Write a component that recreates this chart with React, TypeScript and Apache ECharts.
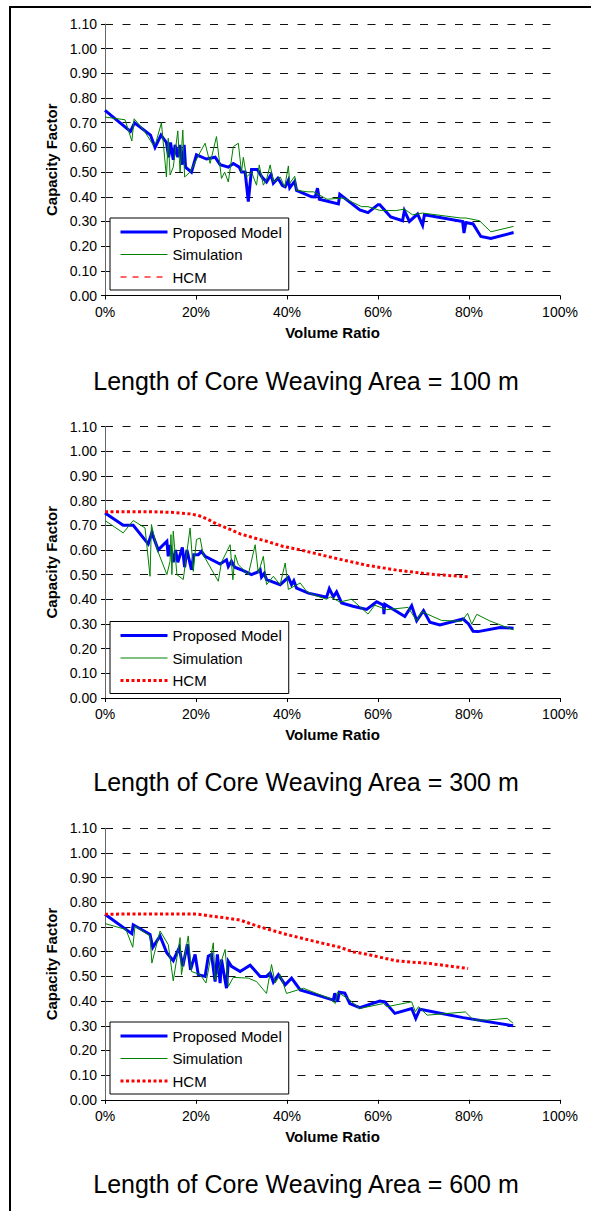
import React, { useEffect, useRef } from "react";
import * as echarts from "echarts";

type Pt = [number, number];

const FONT = '"Liberation Sans", Arial, Helvetica, sans-serif';

const seriesNames = ["Proposed Model", "Simulation", "HCM"];
const panelTitles = [
  "Length of Core Weaving Area = 100 m",
  "Length of Core Weaving Area = 300 m",
  "Length of Core Weaving Area = 600 m",
];
const xAxisName = "Volume Ratio";
const yAxisName = "Capacity Factor";

// ---- Length = 100 m ----
const model100: Pt[] = [
  [0, 0.75], [5.6, 0.665], [6.5, 0.7], [10, 0.65], [11, 0.6], [12.3, 0.65], [13.5, 0.62],
  [14, 0.56], [14.4, 0.62], [15, 0.55], [15.4, 0.61], [16, 0.56], [16.4, 0.61], [17, 0.53],
  [17.4, 0.61], [17.7, 0.52], [19, 0.5], [20.1, 0.57], [22.3, 0.553], [24.2, 0.56],
  [25.3, 0.53], [27.1, 0.52], [28.2, 0.535], [29.5, 0.52], [30, 0.5], [30.8, 0.5],
  [31.5, 0.38], [32.2, 0.51], [33.5, 0.51], [34.5, 0.48], [35.5, 0.46], [36.5, 0.49],
  [37, 0.455], [38, 0.475], [39, 0.445], [39.6, 0.44], [40.3, 0.467], [40.6, 0.436],
  [41.7, 0.463], [42.1, 0.426], [45.4, 0.4], [46.2, 0.399], [46.7, 0.435], [47.1, 0.39],
  [51.3, 0.371], [51.6, 0.41], [56, 0.347], [57.8, 0.336], [60, 0.368], [60.4, 0.368],
  [62.8, 0.318], [65.4, 0.303], [65.8, 0.344], [66.9, 0.3], [68.7, 0.33], [69.8, 0.284],
  [70.2, 0.327], [78.6, 0.3], [78.9, 0.253], [79.3, 0.296], [80.9, 0.29], [82.6, 0.239],
  [84.8, 0.231], [89.8, 0.255],
];
const sim100: Pt[] = [
  [0, 0.723], [4.4, 0.712], [5.9, 0.626], [6.4, 0.716], [8.5, 0.67], [10.6, 0.61],
  [11.2, 0.62], [12.4, 0.7], [13.5, 0.48], [13.9, 0.637], [14.3, 0.488], [15, 0.52],
  [16, 0.667], [16.5, 0.5], [17.1, 0.67], [17.5, 0.48], [18.7, 0.5], [20.9, 0.58],
  [22, 0.617], [23.1, 0.535], [24.5, 0.644], [25.6, 0.474], [26.3, 0.5], [27.1, 0.46],
  [28.2, 0.603], [29.3, 0.617], [30, 0.5], [30.4, 0.56], [31.1, 0.48], [32.2, 0.5],
  [33.3, 0.447], [33.9, 0.529], [34.8, 0.447], [35.5, 0.47], [36.3, 0.529], [37, 0.46],
  [38.5, 0.48], [39.5, 0.44], [40.3, 0.525], [40.6, 0.455], [41.7, 0.483], [42.1, 0.426],
  [44.6, 0.42], [45.9, 0.42], [48.8, 0.39], [52.4, 0.395], [56.4, 0.36], [57.8, 0.36],
  [60.4, 0.345], [63.9, 0.344], [65.8, 0.35], [67.6, 0.327], [69.8, 0.334], [78.2, 0.314],
  [79.3, 0.314], [82.3, 0.303], [84.8, 0.258], [89.8, 0.28],
];
const hcm100: Pt[] = [];

// ---- Length = 300 m ----
const model300: Pt[] = [
  [0, 0.75], [4, 0.7], [6.2, 0.7], [9.5, 0.624], [10.3, 0.67], [11.7, 0.6], [13.6, 0.635],
  [13.9, 0.574], [14.3, 0.62], [15, 0.55], [15.5, 0.6], [16, 0.55], [17, 0.61], [17.5, 0.53],
  [18, 0.6], [19, 0.52], [19.5, 0.58], [20.5, 0.58], [21.2, 0.594], [22, 0.574],
  [25.3, 0.543], [26.7, 0.56], [27.1, 0.533], [27.8, 0.554], [28.5, 0.53], [30.4, 0.516],
  [32.2, 0.5], [33.5, 0.51], [34.1, 0.52], [34.4, 0.49], [35, 0.505], [35.5, 0.48],
  [38.5, 0.459], [40.3, 0.489], [41, 0.459], [41.5, 0.475], [42.1, 0.445], [44.7, 0.425],
  [48.7, 0.408], [49.3, 0.443], [50.2, 0.41], [50.9, 0.43], [52, 0.385], [54.5, 0.372],
  [57.5, 0.359], [59.7, 0.39], [61.2, 0.376], [61.3, 0.34], [61.5, 0.38], [65.9, 0.33],
  [67.4, 0.374], [68.5, 0.313], [70, 0.354], [71.4, 0.307], [73.6, 0.296], [78.7, 0.32],
  [79.9, 0.3], [80.9, 0.27], [82, 0.269], [86.8, 0.286], [89.8, 0.283],
];
const sim300: Pt[] = [
  [0, 0.719], [4, 0.669], [6.2, 0.719], [8.8, 0.689], [9.9, 0.493], [10.2, 0.703],
  [11.5, 0.6], [13.6, 0.5], [14.3, 0.554], [14.5, 0.662], [14.7, 0.5], [15, 0.676],
  [15.8, 0.5], [17.2, 0.48], [18.7, 0.689], [19.4, 0.513], [20.1, 0.642], [20.9, 0.648],
  [21.6, 0.58], [24.9, 0.473], [25.6, 0.55], [27.5, 0.621], [28.1, 0.479], [28.6, 0.58],
  [29.3, 0.54], [31.5, 0.5], [33, 0.621], [33.7, 0.506], [34.8, 0.574], [35.5, 0.459],
  [37, 0.493], [38.5, 0.459], [39.6, 0.547], [40.3, 0.44], [42.9, 0.466], [44.3, 0.432],
  [45.8, 0.418], [48.7, 0.4], [49.5, 0.41], [51.6, 0.389], [54.2, 0.4], [57.8, 0.34],
  [59.3, 0.376], [61.9, 0.358], [66.6, 0.367], [68.5, 0.313], [69.6, 0.35], [74, 0.314],
  [78.4, 0.311], [79.7, 0.343], [80.6, 0.299], [81.7, 0.339], [84.6, 0.312], [89.8, 0.276],
];
const hcm300: Pt[] = [
  [0, 0.755], [5, 0.755], [10, 0.755], [15, 0.752], [18.7, 0.746], [20.5, 0.74],
  [22.5, 0.725], [24.5, 0.705], [27.5, 0.683], [29.7, 0.665], [32.5, 0.65], [35.5, 0.635],
  [39, 0.615], [42.9, 0.6], [47.5, 0.58], [51.6, 0.562], [57.5, 0.538], [64.1, 0.518],
  [71.4, 0.502], [75, 0.497], [79.8, 0.491],
];

// ---- Length = 600 m ----
const model600: Pt[] = [
  [0, 0.752], [5.9, 0.673], [6.2, 0.709], [9.9, 0.67], [10.5, 0.618], [12.1, 0.664],
  [13.6, 0.595], [15, 0.564], [16.3, 0.616], [17.1, 0.541], [18.1, 0.63], [18.8, 0.527],
  [19.8, 0.589], [20.5, 0.507], [22, 0.5], [22.7, 0.582], [23.4, 0.589], [24.2, 0.479],
  [24.7, 0.589], [25.3, 0.473], [25.6, 0.568], [26.7, 0.452], [27.1, 0.561], [27.8, 0.541],
  [29.7, 0.52], [31.9, 0.545], [34.1, 0.5], [35.5, 0.5], [36.3, 0.514], [37, 0.477],
  [38.1, 0.507], [39.6, 0.466], [41, 0.493], [42.9, 0.445], [46.5, 0.425], [50.2, 0.404],
  [50.5, 0.432], [51.1, 0.397], [51.5, 0.436], [52.7, 0.432], [53.8, 0.39], [56, 0.373],
  [60.4, 0.4], [61.5, 0.397], [63.7, 0.35], [67.4, 0.37], [68.3, 0.33], [69.2, 0.367],
  [78.7, 0.333], [89.7, 0.3],
];
const sim600: Pt[] = [
  [0, 0.714], [4.6, 0.69], [6.1, 0.618], [6.6, 0.704], [9.9, 0.664], [10.3, 0.554],
  [12.1, 0.684], [13.9, 0.629], [15, 0.482], [16.5, 0.657], [16.8, 0.507], [18.3, 0.664],
  [19, 0.52], [20.9, 0.507], [22.2, 0.473], [23.8, 0.636], [24.2, 0.486], [26.4, 0.609],
  [27.1, 0.459], [28.2, 0.496], [31.5, 0.493], [33.3, 0.479], [35.5, 0.431], [36.6, 0.548],
  [37.4, 0.473], [38.5, 0.507], [39.9, 0.431], [43.6, 0.452], [46.5, 0.431], [49.5, 0.41],
  [50.6, 0.39], [51.1, 0.436], [53.4, 0.41], [56, 0.37], [61.2, 0.39], [61.9, 0.377],
  [67.4, 0.397], [68.2, 0.357], [68.9, 0.377], [70.8, 0.343], [79.2, 0.356], [81, 0.323],
  [84, 0.323], [88.4, 0.33], [89.7, 0.31],
];
const hcm600: Pt[] = [
  [0, 0.752], [10, 0.753], [20.1, 0.753], [23.1, 0.745], [26.5, 0.737], [29.7, 0.728],
  [34.1, 0.7], [39.9, 0.67], [45.8, 0.643], [51.6, 0.618], [54.6, 0.599], [57.5, 0.59],
  [64, 0.563], [71.4, 0.552], [79.8, 0.532],
];

const panels = [
  { model: model100, sim: sim100, hcm: hcm100 },
  { model: model300, sim: sim300, hcm: hcm300 },
  { model: model600, sim: sim600, hcm: hcm600 },
];

const gridTops = [24, 426.5, 828.3];
const gridH = 271.5;
const legendTops = [218, 621.5, 1022];
const titleYs = [380.7, 782.3, 1184];

export default function App() {
  const ref = useRef<HTMLDivElement>(null);

  useEffect(() => {
    if (!ref.current) return;
    const chart = echarts.init(ref.current, undefined, { renderer: "svg" });

    const styles: any[] = [
      { color: "#0000ff", width: 3, type: "solid" },
      { color: "#008000", width: 1, type: "solid" },
    ];
    const hcmStyle = (i: number): any =>
      i === 0
        ? { color: "#ff3030", width: 1.5, type: [6, 6] }
        : { color: "#ff0000", width: 3, type: [3, 2.5] };

    const series: any[] = [];
    panels.forEach((p, i) => {
      const datas = [p.model, p.sim, p.hcm];
      datas.forEach((d, k) => {
        const ls = k < 2 ? styles[k] : hcmStyle(i);
        series.push({
          type: "line",
          name: seriesNames[k] + "|" + i,
          xAxisIndex: i,
          yAxisIndex: i,
          data: d,
          symbol: "none",
          lineStyle: { ...ls, cap: "butt", join: "miter" },
          itemStyle: { color: ls.color },
          color: ls.color,
          z: 2 + k,
        });
      });
    });

    const option: any = {
      animation: false,
      backgroundColor: "#ffffff",
      textStyle: { fontFamily: FONT, color: "#000" },
      grid: gridTops.map((t) => ({ left: 105, top: t, width: 455, height: gridH })),
      xAxis: gridTops.map((_, i) => ({
        type: "value",
        gridIndex: i,
        min: 0,
        max: 100,
        interval: 20,
        axisLine: { show: true, lineStyle: { color: "#000", width: 1 } },
        axisTick: { show: true, length: 4, lineStyle: { color: "#000" } },
        axisLabel: { formatter: "{value}%", fontSize: 14, color: "#000", margin: 9, fontFamily: FONT },
        splitLine: { show: false },
        name: xAxisName,
        nameLocation: "middle",
        nameGap: 29,
        nameTextStyle: { fontWeight: "bold", fontSize: 15, color: "#000", fontFamily: FONT },
      })),
      yAxis: gridTops.map((_, i) => ({
        type: "value",
        gridIndex: i,
        min: 0,
        max: 1.1,
        interval: 0.1,
        axisLine: { show: true, lineStyle: { color: "#666", width: 1 } },
        axisTick: { show: true, length: 4, lineStyle: { color: "#000" } },
        axisLabel: {
          formatter: (v: number) => v.toFixed(2),
          fontSize: 14,
          color: "#000",
          margin: 8,
          fontFamily: FONT,
        },
        splitLine: { show: true, lineStyle: { color: "#111", width: 1, type: [8, 9.5] } },
        name: yAxisName,
        nameLocation: "middle",
        nameGap: 46,
        nameTextStyle: { fontWeight: "bold", fontSize: 15, color: "#000", fontFamily: FONT },
      })),
      legend: legendTops.map((t, i) => ({
        orient: "vertical",
        left: 110,
        top: t,
        itemWidth: 47,
        itemHeight: 14,
        itemGap: 7.5,
        padding: [6.5, 7, 5.5, 9],
        borderColor: "#000",
        borderWidth: 1,
        backgroundColor: "#fff",
        selectedMode: false,
        textStyle: { fontSize: 15, color: "#000", fontFamily: FONT },
        formatter: (n: string) => n.split("|")[0],
        data: seriesNames.map((n, k) => {
          const ls: any = k < 2 ? styles[k] : hcmStyle(i);
          return {
            name: n + "|" + i,
            itemStyle: { color: "rgba(0,0,0,0)", opacity: 0, borderWidth: 0 },
            lineStyle: { color: ls.color, width: ls.width, type: ls.type, cap: "butt", opacity: 1 },
          };
        }),
      })),
      graphic: [
        {
          type: "rect",
          silent: true,
          shape: { x: 10, y: 7, width: 900, height: 1500 },
          style: { fill: "none", stroke: "#000", lineWidth: 2 },
        },
        ...panelTitles.map((t, i) => ({
          type: "text",
          x: 306,
          y: titleYs[i],
          silent: true,
          style: {
            text: t,
            fill: "#000",
            font: `25px ${FONT}`,
            align: "center",
            verticalAlign: "middle",
          },
        })),
      ],
      series,
    };

    chart.setOption(option);
    return () => chart.dispose();
  }, []);

  return (
    <div
      ref={ref}
      style={{ position: "absolute", left: 0, top: 0, width: 591, height: 1211, background: "#fff" }}
    />
  );
}
